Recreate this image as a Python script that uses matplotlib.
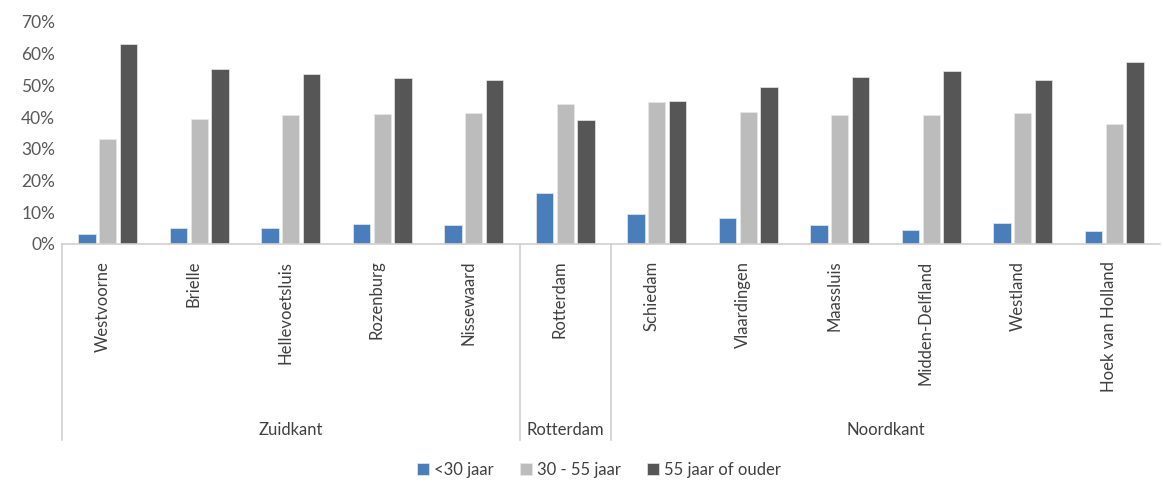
import matplotlib.pyplot as plt
import matplotlib.ticker as mticker
import numpy as np

plt.rcParams['font.family'] = ['Lato', 'DejaVu Sans']

# Share of each age group per municipality
gemeenten = ['Westvoorne', 'Brielle', 'Hellevoetsluis', 'Rozenburg', 'Nissewaard',
             'Rotterdam',
             'Schiedam', 'Vlaardingen', 'Maassluis', 'Midden-Delfland', 'Westland',
             'Hoek van Holland']
onder_30 = [0.030, 0.050, 0.050, 0.064, 0.060, 0.160,
            0.095, 0.081, 0.060, 0.044, 0.067, 0.041]
tussen_30_55 = [0.331, 0.393, 0.406, 0.410, 0.412, 0.443,
                0.447, 0.416, 0.406, 0.406, 0.412, 0.379]
boven_55 = [0.631, 0.552, 0.536, 0.522, 0.518, 0.390,
            0.451, 0.494, 0.528, 0.545, 0.518, 0.573]
reeksen = ['<30 jaar', '30 - 55 jaar', '55 jaar of ouder']

# Regions (label, number of municipalities)
regios = [('Zuidkant', 5), ('Rotterdam', 1), ('Noordkant', 6)]

kleuren = ['#4a7ebb', '#bcbcbc', '#565656']
tekst = '#595959'
lijn = '#d0d0d0'

fig = plt.figure(figsize=(11.63, 4.84), dpi=100)
ax = fig.add_axes([62 / 1163, 1 - 244 / 484, 1098 / 1163, 222 / 484])

x = np.arange(len(gemeenten))
breedte = 0.19
for i, (waarden, naam) in enumerate(zip([onder_30, tussen_30_55, boven_55], reeksen)):
    ax.bar(x + (i - 1) * 0.225, waarden, breedte, color=kleuren[i], label=naam,
           edgecolor='#e8e8e8', linewidth=0.5)

ax.set_xlim(-0.5, len(gemeenten) - 0.5)
ax.set_ylim(0, 0.7)
ax.yaxis.set_major_locator(mticker.MultipleLocator(0.1))
ax.yaxis.set_major_formatter(mticker.PercentFormatter(1.0, decimals=0))

for s in ['top', 'right', 'left']:
    ax.spines[s].set_visible(False)
ax.spines['bottom'].set_color(lijn)
ax.spines['bottom'].set_linewidth(1.2)

ax.tick_params(axis='y', length=0, labelsize=12.5, labelcolor=tekst, pad=5)
ax.tick_params(axis='x', length=0, pad=12)
ax.set_xticks(x - 0.06)
ax.set_xticklabels(gemeenten, rotation=90, va='top', ha='center',
                   fontsize=12, color='#404040')

# Region separators and labels below the axis
trans = ax.get_xaxis_transform()
onder = -(440 - 244) / 222
start = -0.5
ax.plot([start, start], [0, onder], color=lijn, lw=1.2, transform=trans, clip_on=False)
for naam, n in regios:
    eind = start + n
    if eind < len(gemeenten) - 0.5:
        ax.plot([eind, eind], [0, onder], color=lijn, lw=1.2, transform=trans, clip_on=False)
    ax.text((start + eind) / 2, -(430 - 244) / 222, naam, transform=trans,
            ha='center', va='center', fontsize=12, color='#404040')
    start = eind

fig.legend(loc='center', bbox_to_anchor=(0.515, 1 - 470 / 484), ncol=3, frameon=False,
           fontsize=12, handlelength=0.7, handleheight=0.7, handletextpad=0.3,
           columnspacing=1.6, labelcolor='#404040')

fig.savefig('out.png', dpi=100)
